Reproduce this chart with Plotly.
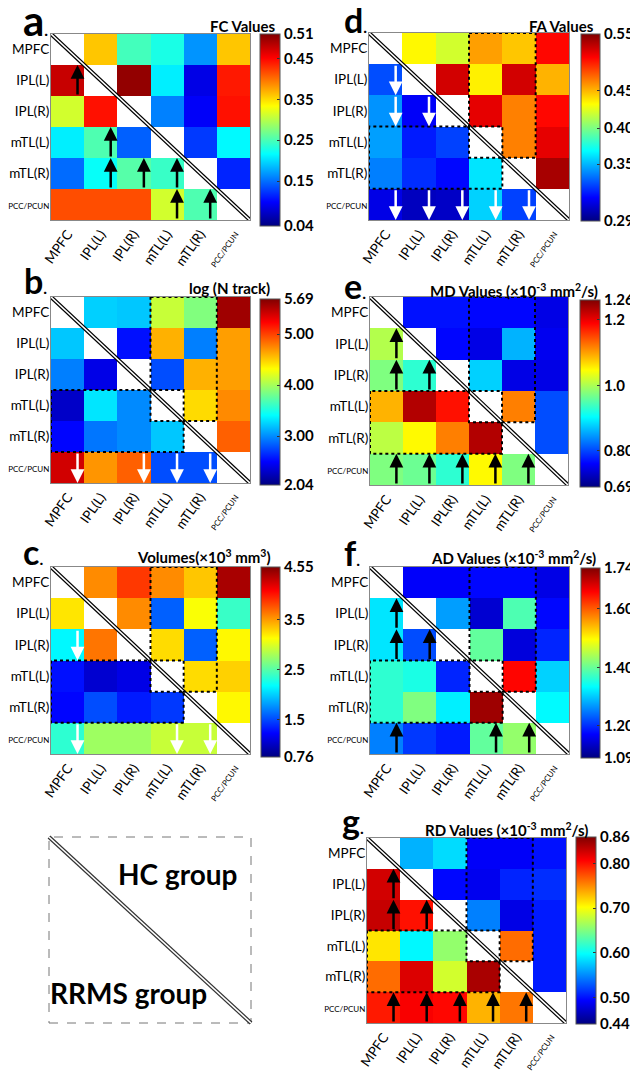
import plotly.graph_objects as go

# page is drawn with the browser's default 8px body margin
PAGE_W, PAGE_H, BODY_MARGIN = 638, 1072, 8
W, H = PAGE_W - BODY_MARGIN, PAGE_H - BODY_MARGIN

regions = ["MPFC", "IPL(L)", "IPL(R)", "mTL(L)", "mTL(R)", "PCC/PCUN"]

# ---- cell values (upper triangle = HC, lower triangle = RRMS) ----
fc_values = [
    [None, 0.360, 0.247, 0.228, 0.167, 0.360],
    [0.477, None, 0.501, 0.209, 0.087, 0.440],
    [0.313, 0.444, None, 0.158, 0.096, 0.444],
    [0.209, 0.252, 0.143, None, 0.125, 0.214],
    [0.148, 0.219, 0.256, 0.242, None, 0.115],
    [0.416, 0.416, 0.416, 0.313, 0.252, None],
]
ntrack_log = [
    [None, 3.24, 3.21, 4.12, 3.87, 5.58],
    [3.21, None, 2.55, 4.60, 2.95, 4.67],
    [2.95, 2.41, None, 2.77, 4.60, 4.67],
    [2.30, 3.32, 2.99, None, 4.45, 4.74],
    [2.51, 2.92, 2.99, 3.21, None, 4.89],
    [5.40, 4.70, 4.89, 2.77, 2.77, None],
]
volume_values = [
    [None, 3.56, 3.87, 3.56, 3.34, 4.40],
    [3.22, None, 3.56, 1.59, 3.11, 2.39],
    [2.16, 3.64, None, 3.26, 1.59, 3.15],
    [1.29, 1.06, 1.14, None, 3.26, 3.30],
    [1.25, 1.52, 1.33, 1.44, None, 3.15],
    [2.35, 2.77, 2.77, 2.92, 2.92, None],
]
fa_values = [
    [None, 0.454, 0.441, 0.477, 0.467, 0.516],
    [0.342, None, 0.529, 0.456, 0.529, 0.472],
    [0.360, 0.321, None, 0.524, 0.485, 0.516],
    [0.363, 0.329, 0.339, None, 0.485, 0.524],
    [0.355, 0.334, 0.324, 0.381, None, 0.540],
    [0.316, 0.306, 0.308, 0.376, 0.339, None],
]
md_values = [
    [None, 0.770, 0.770, 0.764, 0.764, 0.747],
    [1.004, None, 0.764, 0.747, 0.861, 0.753],
    [0.975, 0.929, None, 0.878, 0.747, 0.747],
    [1.089, 1.232, 1.180, None, 1.118, 0.804],
    [1.009, 1.049, 1.118, 1.232, None, 0.804],
    [0.975, 0.964, 0.929, 1.049, 0.975, None],
]
ad_values = [
    [None, 1.168, 1.168, 1.175, 1.175, 1.155],
    [1.318, None, 1.272, 1.142, 1.383, 1.175],
    [1.318, 1.220, None, 1.396, 1.149, 1.194],
    [1.363, 1.350, 1.194, None, 1.656, 1.305],
    [1.363, 1.415, 1.324, 1.721, None, 1.331],
    [1.253, 1.207, 1.188, 1.396, 1.428, None],
]
rd_values = [
    [None, 0.566, 0.583, 0.490, 0.490, 0.499],
    [0.826, None, 0.495, 0.486, 0.507, 0.511],
    [0.831, 0.801, None, 0.545, 0.482, 0.503],
    [0.713, 0.595, 0.658, None, 0.763, 0.503],
    [0.763, 0.822, 0.684, 0.843, None, 0.503],
    [0.797, 0.810, 0.805, 0.734, 0.759, None],
]

# ---- colorbar ranges and tick labels ----
fc_range = [0.04, 0.51]
fc_tickvals = [0.04, 0.15, 0.25, 0.35, 0.45, 0.51]
fc_ticktext = ["0.04", "0.15", "0.25", "0.35", "0.45", "0.51"]
nt_range = [2.04, 5.69]
nt_tickvals = [2.04, 3.00, 4.00, 5.00, 5.69]
nt_ticktext = ["2.04", "3.00", "4.00", "5.00", "5.69"]
vol_range = [0.76, 4.55]
vol_tickvals = [0.76, 1.5, 2.5, 3.5, 4.55]
vol_ticktext = ["0.76", "1.5", "2.5", "3.5", "4.55"]
fa_range = [0.29, 0.55]
fa_tickvals = [0.29, 0.369, 0.419, 0.471, 0.55]
fa_ticktext = ["0.29", "0.35", "0.40", "0.45", "0.55"]
md_range = [0.69, 1.26]
md_tickvals = [0.69, 0.80, 1.0, 1.2, 1.26]
md_ticktext = ["0.69", "0.80", "1.0", "1.2", "1.26"]
ad_range = [1.09, 1.74]
ad_tickvals = [1.09, 1.20, 1.40, 1.60, 1.74]
ad_ticktext = ["1.09", "1.20", "1.40", "1.60", "1.74"]
rd_range = [0.44, 0.86]
rd_tickvals = [0.44, 0.50, 0.60, 0.70, 0.80, 0.86]
rd_ticktext = ["0.44", "0.50", "0.60", "0.70", "0.80", "0.86"]

# ---- significant-difference arrows (row, col) ----
fc_arrows = [(1, 0), (3, 1), (4, 1), (4, 2), (4, 3), (5, 3), (5, 4)]
nt_arrows = [(5, 0), (5, 2), (5, 3), (5, 4)]
vol_arrows = [(2, 0), (5, 0), (5, 3), (5, 4)]
fa_arrows = [(1, 0), (2, 0), (2, 1), (5, 0), (5, 1), (5, 2), (5, 3), (5, 4)]
md_arrows = [(1, 0), (2, 0), (2, 1), (5, 0), (5, 1), (5, 2), (5, 3), (5, 4)]
ad_arrows = [(1, 0), (2, 0), (2, 1), (5, 0), (5, 3), (5, 4)]
rd_arrows = [(1, 0), (2, 0), (2, 1), (5, 0), (5, 1), (5, 2), (5, 3), (5, 4)]

# dotted block: rows 0..3 x cols 3..4 (and its transpose)
block_rows = (0, 3)
block_cols = (3, 4)

jet = [[0.0, "rgb(0,0,128)"], [0.125, "rgb(0,0,255)"], [0.375, "rgb(0,255,255)"],
       [0.625, "rgb(255,255,0)"], [0.875, "rgb(255,0,0)"], [1.0, "rgb(128,0,0)"]]

NARROW = "Lato, sans-serif"
BOLD = "Lato, Open Sans, sans-serif"


def label_text(s):
    if len(s) > 6:
        return "<span style='font-size:8px'>" + s + "</span>"
    return s


tick_labels = [label_text(s) for s in regions]

sup = lambda s: "<sup>" + s + "</sup>"
panels = [
    dict(letter="a", lsize=42, lpos=(21, 20), z=fc_values, rng=fc_range, tv=fc_tickvals, tt=fc_ticktext,
         title="FC Values", tpos=(277, 26), arrows=fc_arrows, up=True, box=False,
         hm=(51, 250, 34, 220), cb=(260, 280, 34, 226)),
    dict(letter="b", lsize=34, lpos=(22, 280), z=ntrack_log, rng=nt_range, tv=nt_tickvals, tt=nt_ticktext,
         title="log (N track)", tpos=(272, 288), arrows=nt_arrows, up=False, box=True,
         hm=(51, 250, 297, 483), cb=(260, 280, 299, 485)),
    dict(letter="c", lsize=34, lpos=(21, 551), z=volume_values, rng=vol_range, tv=vol_tickvals, tt=vol_ticktext,
         title="Volumes(×10" + sup("3") + " mm" + sup("3") + ")", tpos=(273, 556), arrows=vol_arrows, up=False, box=True,
         hm=(51, 250, 567, 754), cb=(261, 280, 567, 757)),
    dict(letter="d", lsize=34, lpos=(342, 20), z=fa_values, rng=fa_range, tv=fa_tickvals, tt=fa_ticktext,
         title="FA Values", tpos=(596, 26), arrows=fa_arrows, up=False, box=True,
         hm=(369, 569, 33, 220), cb=(581, 600, 34, 221)),
    dict(letter="e", lsize=34, lpos=(342, 286), z=md_values, rng=md_range, tv=md_tickvals, tt=md_ticktext,
         title="MD Values (×10" + sup("-3") + " mm" + sup("2") + "/s)", tpos=(600, 290), arrows=md_arrows, up=True, box=True,
         hm=(370, 568, 297, 485), cb=(580, 600, 300, 487)),
    dict(letter="f", lsize=34, lpos=(342, 552), z=ad_values, rng=ad_range, tv=ad_tickvals, tt=ad_ticktext,
         title="AD Values (×10" + sup("-3") + " mm" + sup("2") + "/s)", tpos=(598, 557), arrows=ad_arrows, up=True, box=True,
         hm=(370, 569, 567, 754), cb=(581, 600, 568, 758)),
    dict(letter="g", lsize=34, lpos=(340, 820), z=rd_values, rng=rd_range, tv=rd_tickvals, tt=rd_ticktext,
         title="RD Values (×10" + sup("-3") + " mm" + sup("2") + "/s)", tpos=(590, 829), arrows=rd_arrows, up=True, box=True,
         hm=(367, 566, 838, 1023), cb=(576, 596, 837, 1024)),
]
legend_box = (49, 251, 837, 1023)

# page pixel -> paper fraction
px = lambda x: (x - BODY_MARGIN) / W
py = lambda y: 1 - (y - BODY_MARGIN) / H

fig = go.Figure()
shapes, annotations = [], []
idx = list(range(len(regions)))

for i, p in enumerate(panels):
    n = "" if i == 0 else str(i + 1)
    xa, ya = "x" + n, "y" + n
    x0, x1, y0, y1 = p["hm"]
    c0, c1, cy0, cy1 = p["cb"]
    fig.add_trace(go.Heatmap(
        z=p["z"], x=idx, y=idx, xaxis=xa, yaxis=ya, colorscale=jet,
        zmin=p["rng"][0], zmax=p["rng"][1], hoverinfo="skip",
        colorbar=dict(x=px(c0), xanchor="left", xpad=0, y=py(cy0), yanchor="top", ypad=0,
                      len=cy1 - cy0, lenmode="pixels", thickness=c1 - c0, thicknessmode="pixels",
                      outlinewidth=1, outlinecolor="#555", tickvals=p["tv"], ticktext=p["tt"],
                      ticks="inside", ticklen=3, tickcolor="#333",
                      tickfont=dict(family=BOLD, size=15, color="black", weight="bold")),
    ))
    axfont = dict(family=NARROW, size=13.5, color="black")
    fig.update_layout({
        "xaxis" + n: dict(domain=[px(x0), px(x1)], anchor=ya, range=[-0.5, 5.5], tickvals=idx,
                          ticktext=tick_labels, tickangle=-55, tickfont=axfont, showgrid=False, zeroline=False,
                          showline=True, mirror=True, linecolor="#888", linewidth=1, ticks="",
                          automargin=False),
        "yaxis" + n: dict(domain=[py(y1), py(y0)], anchor=xa, range=[5.5, -0.5], tickvals=idx,
                          ticktext=tick_labels, tickfont=axfont, showgrid=False, zeroline=False,
                          showline=True, mirror=True, linecolor="#888", linewidth=1, ticks="",
                          automargin=False, ticklabelstandoff=-2),
    })
    # diagonal double line
    shapes.append(dict(type="line", xref=xa, yref=ya, x0=-0.5, y0=-0.5, x1=5.5, y1=5.5,
                       line=dict(color="black", width=4), layer="above"))
    shapes.append(dict(type="line", xref=xa, yref=ya, x0=-0.5, y0=-0.5, x1=5.5, y1=5.5,
                       line=dict(color="white", width=1.6), layer="above"))
    if p["box"]:
        r0, r1 = block_rows
        k0, k1 = block_cols
        pts = [(k0 - .5, r0 - .5), (k1 + .5, r0 - .5), (k1 + .5, r1 + .5), (k0 + .5, r1 + .5),
               (k0 + .5, r1 - .5), (k0 - .5, r1 - .5)]
        for pp in (pts, [(b, a) for a, b in pts]):
            path = "M " + " L ".join(f"{a},{b}" for a, b in pp) + " Z"
            shapes.append(dict(type="path", xref=xa, yref=ya, path=path,
                               line=dict(color="black", width=2, dash="dot"), layer="above"))
    color = "black" if p["up"] else "white"
    for (r, c) in p["arrows"]:
        tip, tail = (r - 0.5, r + 0.5) if p["up"] else (r + 0.5, r - 0.5)
        annotations.append(dict(x=c + 0.3, y=tip, ax=c + 0.3, ay=tail, xref=xa, yref=ya,
                                axref=xa, ayref=ya, text="", showarrow=True, arrowhead=2,
                                arrowsize=1.1, arrowwidth=2.5, arrowcolor=color, standoff=0,
                                startstandoff=0))
    lx, ly = p["lpos"]
    annotations.append(dict(x=px(lx), y=py(ly), xref="paper", yref="paper", xanchor="left",
                            yanchor="middle", showarrow=False,
                            text="<b>" + p["letter"] + "</b><span style='font-size:16px'><b>.</b></span>",
                            font=dict(family=BOLD, size=p["lsize"], color="black")))
    tx, ty = p["tpos"]
    annotations.append(dict(x=px(tx), y=py(ty), xref="paper", yref="paper", xanchor="right",
                            yanchor="middle", showarrow=False, text="<b>" + p["title"] + "</b>",
                            font=dict(family=BOLD, size=15, color="black")))

# legend box
bx0, bx1, by0, by1 = legend_box
shapes.append(dict(type="rect", xref="paper", yref="paper", x0=px(bx0), x1=px(bx1), y0=py(by1), y1=py(by0),
                   line=dict(color="#777", width=1, dash="dash")))
shapes.append(dict(type="line", xref="paper", yref="paper", x0=px(bx0), y0=py(by0), x1=px(bx1), y1=py(by1),
                   line=dict(color="#333", width=4)))
shapes.append(dict(type="line", xref="paper", yref="paper", x0=px(bx0), y0=py(by0), x1=px(bx1), y1=py(by1),
                   line=dict(color="white", width=1.6)))
annotations.append(dict(x=px(178), y=py(874), xref="paper", yref="paper", showarrow=False,
                        xanchor="center", yanchor="middle",
                        text="<b>HC group</b>", font=dict(family=BOLD, size=28, color="black")))
annotations.append(dict(x=px(128), y=py(993), xref="paper", yref="paper", showarrow=False,
                        xanchor="center", yanchor="middle",
                        text="<b>RRMS group</b>", font=dict(family=BOLD, size=28, color="black")))

fig.update_layout(width=W, height=H, margin=dict(l=0, r=0, t=0, b=0, autoexpand=False),
                  paper_bgcolor="white", plot_bgcolor="white", showlegend=False,
                  shapes=shapes, annotations=annotations)
fig.write_html("out.html")
